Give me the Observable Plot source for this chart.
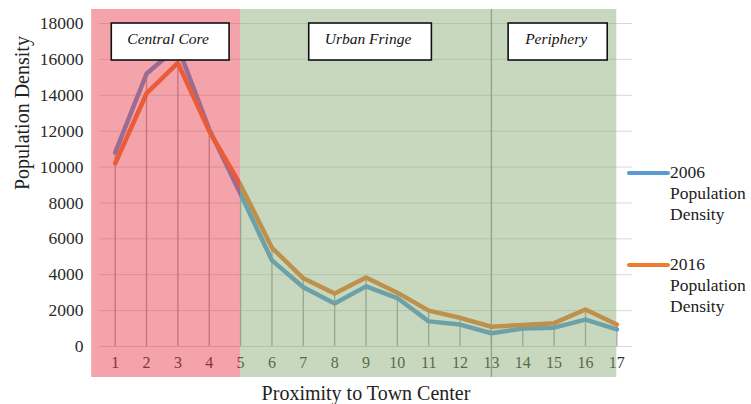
<!DOCTYPE html>
<html>
<head>
<meta charset="utf-8">
<script src="https://cdn.jsdelivr.net/npm/d3@7"></script>
<script src="https://cdn.jsdelivr.net/npm/@observablehq/plot@0.6"></script>
<style>
  html, body { margin: 0; padding: 0; background: #fff; }
  #wrap { position: relative; width: 751px; height: 404px; font-family: "Liberation Serif", "Times New Roman", serif; }
  #wrap svg, #wrap svg text { font-family: "Liberation Serif", "Times New Roman", serif; }
  #legend { position: absolute; left: 627px; top: 0; width: 124px; font-size: 17.5px; color: #222; }
  .item { position: absolute; left: 0; width: 124px; }
  .swatch { position: absolute; left: 0; width: 43px; height: 4px; border-radius: 2px; }
  .ltext { position: absolute; left: 43px; line-height: 21px; white-space: nowrap; }
</style>
</head>
<body>
<div id="wrap"></div>
<script>
// ---- data ----
const proximity = [1, 2, 3, 4, 5, 6, 7, 8, 9, 10, 11, 12, 13, 14, 15, 16, 17];
const density2006 = [10800, 15200, 16700, 12100, 8500, 4800, 3300, 2400, 3350, 2700, 1400, 1220, 740, 1000, 1050, 1500, 950];
const density2016 = [10200, 14100, 15800, 12000, 9000, 5500, 3800, 2950, 3850, 3000, 2000, 1600, 1100, 1200, 1300, 2060, 1230];
const seriesNames = ["2006 Population Density", "2016 Population Density"];
const yTicks = [0, 2000, 4000, 6000, 8000, 10000, 12000, 14000, 16000, 18000];
const zoneNames = ["Central Core", "Urban Fringe", "Periphery"];
const zoneStart = [0.25, 5, 13];
const zoneEnd = [5, 13, 17];
const zoneBoundaries = [13];
const xLabel = "Proximity to Town Center";
const yLabel = "Population Density";

// ---- derived tables ----
const rows2006 = proximity.map((p, i) => ({p, v: density2006[i]}));
const rows2016 = proximity.map((p, i) => ({p, v: density2016[i]}));
const drops = proximity.map((p, i) => ({p, v: Math.max(density2006[i], density2016[i])}));
const zones = zoneNames.map((name, i) => ({name, start: zoneStart[i], end: zoneEnd[i], mid: (zoneStart[i] + zoneEnd[i]) / 2}));
const yTop = yTicks[yTicks.length - 1];

// ---- styles ----
const zoneFill = {"Central Core": "rgb(231,51,67)", "Urban Fringe": "rgb(133,169,111)", "Periphery": "rgb(133,169,111)"};
const lineColors = ["#5b9bd5", "#ed7d31"];
const serif = "'Liberation Serif', 'Times New Roman', serif";

const plot = Plot.plot({
  width: 751,
  height: 404,
  marginLeft: 99,
  marginRight: 119,
  marginTop: 23,
  marginBottom: 58,
  style: {fontFamily: serif, background: "transparent", overflow: "visible"},
  x: {type: "linear", domain: [0.5, 17.5]},
  y: {domain: [0, yTop]},
  marks: [
    Plot.gridY(yTicks, {stroke: "#d9d9d9", strokeOpacity: 1, strokeWidth: 1}),
    Plot.axisX(proximity, {tickSize: 0, tickPadding: 10, fontSize: 16, fill: "#333", fontFamily: serif,
      label: null, tickFormat: d => String(d)}),
    Plot.axisY(yTicks, {tickSize: 0, tickPadding: 16, fontSize: 17.5, fill: "#2a2a2a", fontFamily: serif,
      label: null, tickFormat: d => String(d)}),
    Plot.text([xLabel], {frameAnchor: "bottom", dy: 53, text: d => d, fontSize: 20, fill: "#222", fontFamily: serif}),
    Plot.text([yLabel], {frameAnchor: "left", rotate: -90, dx: -77, dy: 5, text: d => d, fontSize: 20, fill: "#222", fontFamily: serif}),
    Plot.ruleX(drops, {x: "p", y1: 0, y2: "v", stroke: "#a6a6a6", strokeWidth: 1.3}),
    Plot.ruleX(zoneBoundaries, {x: d => d, y1: yTop, y2: 0, insetTop: -14, insetBottom: -31, stroke: "#9a9a9a", strokeWidth: 1.3}),
    Plot.line(rows2006, {x: "p", y: "v", stroke: lineColors[0], strokeWidth: 4.5, strokeLinejoin: "round", strokeLinecap: "round"}),
    Plot.line(rows2016, {x: "p", y: "v", stroke: lineColors[1], strokeWidth: 4.5, strokeLinejoin: "round", strokeLinecap: "round"}),
    Plot.rect(zones, {x1: "start", x2: "end", y1: 0, y2: yTop, insetTop: -14, insetBottom: -31,
      fill: d => zoneFill[d.name], fillOpacity: 0.45}),
    Plot.text(zones, {x: "mid", frameAnchor: "top", dy: 9, dx: 2, text: "name", fontStyle: "italic", fontFamily: serif,
      fontSize: 15.5, fill: "#111", className: "zone-label"})
  ]
});

const wrap = document.getElementById("wrap");
wrap.appendChild(plot);

// boxes behind zone labels
const g = plot.querySelector("g.zone-label") || plot.querySelector(".zone-label");
if (g) {
  g.querySelectorAll("text").forEach(t => {
    const bb = t.getBBox();
    const cy = bb.y + bb.height / 2;
    const r = document.createElementNS("http://www.w3.org/2000/svg", "rect");
    r.setAttribute("x", bb.x - 16);
    r.setAttribute("y", cy - 15);
    r.setAttribute("width", bb.width + 36);
    r.setAttribute("height", 37);
    r.setAttribute("fill", "#fff");
    r.setAttribute("stroke", "#111");
    r.setAttribute("stroke-width", 1.6);
    const tr = t.getAttribute("transform");
    if (tr) r.setAttribute("transform", tr);
    t.parentNode.insertBefore(r, t);
  });
}

// legend
const legend = document.createElement("div");
legend.id = "legend";
const legendTops = [162, 254];
seriesNames.forEach((name, i) => {
  const [year, ...rest] = name.split(" ");
  const item = document.createElement("div");
  item.className = "item";
  item.style.top = legendTops[i] + "px";
  const sw = document.createElement("div");
  sw.className = "swatch";
  sw.style.background = lineColors[i];
  sw.style.top = "9px";
  const tx = document.createElement("div");
  tx.className = "ltext";
  tx.innerHTML = [year, ...rest].join("<br>");
  item.appendChild(sw);
  item.appendChild(tx);
  legend.appendChild(item);
});
wrap.appendChild(legend);
</script>
</body>
</html>
